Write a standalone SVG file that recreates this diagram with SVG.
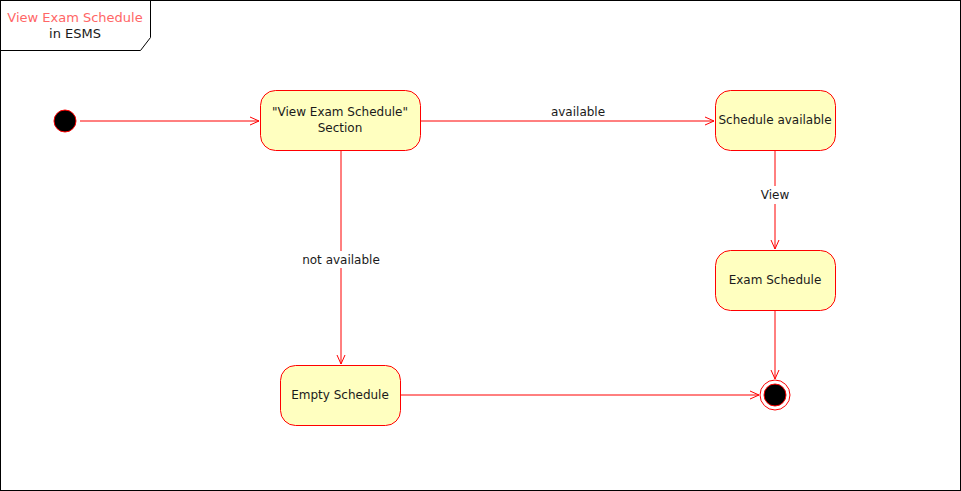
<svg xmlns="http://www.w3.org/2000/svg" width="961" height="491" viewBox="0 0 961 491">
<defs>
<style>
.st{fill:#ffffc0;stroke:#ff0000;stroke-width:1}
.t{font-family:"DejaVu Sans",Verdana,sans-serif;font-size:12px;fill:#1a1a1a;text-anchor:middle}
.tt{font-size:13px}
.e{fill:none;stroke:#ff0000;stroke-width:1}
.lb{fill:#ffffff}
</style>
<marker id="ar" viewBox="0 0 10 10" refX="10" refY="5" markerWidth="10" markerHeight="10" markerUnits="userSpaceOnUse" orient="auto">
<path d="M1,1 L10,5 L1,9" fill="none" stroke="#ff0000" stroke-width="1"/>
</marker>
</defs>
<rect x="0" y="0" width="961" height="491" fill="#ffffff"/>
<g id="frame">
<rect x="0.5" y="0.5" width="960" height="490" fill="none" stroke="#000000"/>
<path d="M0.5,50.5 L140.5,50.5 L150.5,37.5 L150.5,0.5" fill="none" stroke="#000000"/>
<text class="t tt" x="75" y="22" style="fill:#ff6666">View Exam Schedule</text>
<text class="t tt" x="75" y="38">in ESMS</text>
</g>
<g id="connectors">
<line class="e" x1="80" y1="121" x2="259" y2="121" marker-end="url(#ar)"/>
<line class="e" x1="420" y1="121" x2="714" y2="121" marker-end="url(#ar)"/>
<text class="t" x="578" y="116">available</text>
<line class="e" x1="341" y1="150" x2="341" y2="364" marker-end="url(#ar)"/>
<rect class="lb" x="300" y="251" width="82" height="17"/>
<text class="t" x="341" y="264">not available</text>
<line class="e" x1="775" y1="150" x2="775" y2="249" marker-end="url(#ar)"/>
<rect class="lb" x="758" y="186" width="34" height="18"/>
<text class="t" x="775" y="199">View</text>
<line class="e" x1="775" y1="310" x2="775" y2="379" marker-end="url(#ar)"/>
<line class="e" x1="400" y1="395" x2="759" y2="395" marker-end="url(#ar)"/>
</g>
<g id="initial">
<circle cx="65" cy="121" r="11" fill="#000000" stroke="#ff0000"/>
</g>
<g id="viewSection">
<rect class="st" x="260.5" y="90.5" width="160" height="60" rx="15"/>
<text class="t" x="340" y="116">"View Exam Schedule"</text>
<text class="t" x="340" y="132">Section</text>
</g>
<g id="scheduleAvailable">
<rect class="st" x="715.5" y="90.5" width="120" height="60" rx="15"/>
<text class="t" x="775" y="124">Schedule available</text>
</g>
<g id="examSchedule">
<rect class="st" x="715.5" y="250.5" width="120" height="60" rx="15"/>
<text class="t" x="775" y="284">Exam Schedule</text>
</g>
<g id="emptySchedule">
<rect class="st" x="280.5" y="365.5" width="120" height="60" rx="15"/>
<text class="t" x="340" y="399">Empty Schedule</text>
</g>
<g id="final">
<circle cx="775" cy="395" r="15" fill="#ffffff" stroke="#ff0000"/>
<circle cx="775" cy="395" r="11" fill="#000000" stroke="#ff0000"/>
</g>
</svg>
